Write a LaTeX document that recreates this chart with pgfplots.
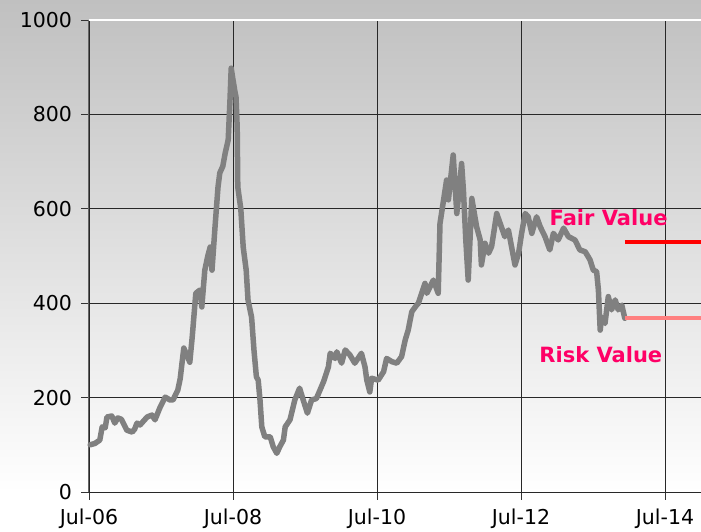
\documentclass[border=0pt]{standalone}
\usepackage{pgfplots}
\pgfplotsset{compat=1.18}
\usepackage{fontspec}
\setmainfont{DejaVu Sans}

\definecolor{bgtop}{RGB}{192,192,192}
\definecolor{pricegray}{RGB}{128,128,128}
\definecolor{labelpink}{RGB}{255,0,102}
\definecolor{fairred}{RGB}{255,0,0}
\definecolor{riskpink}{RGB}{255,128,128}
\definecolor{gridc}{RGB}{40,40,40}

% price history, x = months since Jul-06
\pgfplotstableread{
m     v
0.2   100
1.0   103
1.8   110
2.2   138
2.7   136
3.0   159
3.8   161
4.3   146
4.8   157
5.4   154
6.3   131
7.2   127
7.6   133
8.0   146
8.5   142
9.7   159
10.5  163
11.0  153
11.8  178
12.7  201
13.5  195
14.0  195
14.8  216
15.2  240
15.5  273
15.8  305
16.3  290
16.8  275
17.2  328
17.8  421
18.5  428
18.8  392
19.3  470
19.8  500
20.2  519
20.5  470
21.0  561
21.5  646
21.8  676
22.3  690
22.7  718
23.2  746
23.5  831
23.7  898
24.0  873
24.3  850
24.5  837
24.7  773
24.8  646
25.3  600
25.7  519
26.2  470
26.5  407
27.1  370
27.5  300
27.9  244
28.2  237
28.5  195
28.8  138
29.3  117
30.2  117
30.7  96
31.3  82
31.8  96
32.4  110
32.7  138
33.5  153
34.3  195
35.1  220
35.7  195
36.4  167
37.1  195
37.9  198
38.5  216
39.1  234
39.9  265
40.2  294
41.0  283
41.3  297
42.1  273
42.7  301
43.5  290
44.3  273
45.4  294
46.0  265
46.3  237
46.8  212
47.1  241
48.2  237
49.1  255
49.6  283
50.5  276
51.3  273
52.1  287
52.7  322
53.2  343
53.8  382
54.6  396
54.9  400
56.0  442
56.3  421
57.4  449
58.2  421
58.5  569
59.1  619
59.6  661
59.9  619
60.7  714
61.3  590
61.8  654
62.1  696
62.4  640
62.8  534
63.2  449
63.5  534
63.8  622
64.6  562
65.2  534
65.4  481
66.0  527
66.6  506
67.1  520
67.95 590
68.5  570
69.3  541
69.9  555
71.0  481
71.6  506
72.1  548
72.7  590
73.2  583
73.8  548
74.6  583
75.2  562
76.0  541
76.8  513
77.4  548
78.2  534
79.1  559
79.9  541
81.0  534
81.8  513
82.7  509
83.5  492
84.05 470
84.6  467
84.9  428
85.2  343
85.45 371
86.0  357
86.55 414
87.1  386
87.7  407
88.2  386
88.8  396
89.3  368
}\pricedata

\begin{document}
\begin{tikzpicture}
\path[use as bounding box] (-89pt,-39pt) rectangle (612pt,492pt);
\fill[white] (-89pt,-39pt) rectangle (612pt,492pt);
\shade[top color=bgtop, bottom color=white] (-89pt,0pt) rectangle (612pt,492pt);
\begin{axis}[
  at={(0,0)}, anchor=south west,
  scale only axis, width=612pt, height=472pt,
  xmin=0, xmax=102, ymin=0, ymax=1000,
  axis x line*=bottom, axis y line*=left,
  x axis line style={gridc, line width=1pt},
  y axis line style={black!60, line width=1pt},
  xtick={0,24,48,72,96},
  xticklabels={Jul-06,Jul-08,Jul-10,Jul-12,Jul-14},
  ytick={0,200,400,600,800,1000},
  yticklabels={0,200,400,600,800,1000},
  tick align=outside,
  major tick length=7.5pt,
  tick style={black!80, line width=0.8pt},
  grid=major,
  major grid style={gridc, line width=0.8pt},
  ticklabel style={font=\fontsize{20.5}{24}\selectfont},
  yticklabel style={xshift=-6pt},
  xticklabel style={yshift=-5.5pt},
  clip=false,
]
\addplot[pricegray, line width=5.5pt, line join=round, line cap=round]
  table[x=m, y=v] {\pricedata};
\addplot[fairred, line width=4pt] coordinates {(89.3,530) (102,530)};
\addplot[riskpink, line width=4pt] coordinates {(89.3,368) (102,368)};
\draw[white, line width=2pt] (rel axis cs:0,1) -- (rel axis cs:1,1);
\node[labelpink, font=\bfseries\fontsize{21}{24}\selectfont, anchor=base]
  at (axis cs:86.6,563.6) {Fair Value};
\node[labelpink, font=\bfseries\fontsize{21}{24}\selectfont, anchor=base]
  at (axis cs:85.3,274) {Risk Value};
\end{axis}
\end{tikzpicture}
\end{document}
